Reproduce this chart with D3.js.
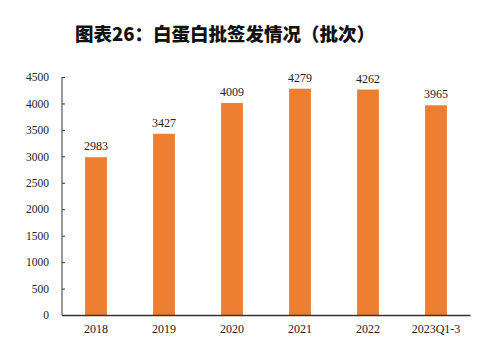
<!DOCTYPE html>
<html>
<head>
<meta charset="utf-8">
<script src="https://cdn.jsdelivr.net/npm/d3@7"></script>
<style>
  body { margin: 0; background: #fff; }
  svg text { font-family: "Liberation Serif", "Times New Roman", serif; fill: #222; }
  .title { font-family: "Noto Sans CJK SC", sans-serif !important; font-weight: 900; fill: #111 !important; }
</style>
</head>
<body>
<div id="chart"></div>
<script>
// 数据
const categories = ["2018", "2019", "2020", "2021", "2022", "2023Q1-3"];
const values = [2983, 3427, 4009, 4279, 4262, 3965];
const yTicks = [0, 500, 1000, 1500, 2000, 2500, 3000, 3500, 4000, 4500];

const width = 500;
const height = 353;
const margin = { top: 77, right: 30, bottom: 38, left: 62 };

const svg = d3.select("#chart")
    .append("svg")
    .attr("width", width)
    .attr("height", height);

// 标题
svg.append("text")
    .attr("class", "title")
    .attr("x", 225)
    .attr("y", 41)
    .attr("text-anchor", "middle")
    .style("font-size", "18.5px")
    .text("图表26：白蛋白批签发情况（批次）");

// 比例尺
const x = d3.scaleBand()
    .domain(categories)
    .range([margin.left, width - margin.right])
    .paddingInner(0.68)
    .paddingOuter(0.34);

const y = d3.scaleLinear()
    .domain([0, 4500])
    .range([height - margin.bottom, margin.top]);

// 柱子
svg.selectAll(".bar")
    .data(values)
    .enter()
    .append("rect")
    .attr("class", "bar")
    .attr("x", (_, i) => x(categories[i]))
    .attr("y", d => y(d))
    .attr("width", x.bandwidth())
    .attr("height", d => y(0) - y(d))
    .attr("fill", "#ED7D31");

// 数值标签
svg.selectAll(".val")
    .data(values)
    .enter()
    .append("text")
    .attr("x", (_, i) => x(categories[i]) + x.bandwidth() / 2)
    .attr("y", d => y(d) - 7)
    .attr("text-anchor", "middle")
    .style("font-size", "12px")
    .text(d => d);

// Y 轴
const yAxis = svg.append("g")
    .attr("transform", `translate(${margin.left},0)`)
    .call(d3.axisRight(y).tickValues(yTicks).tickSize(3).tickFormat(d => d));
yAxis.select(".domain").attr("stroke", "#333").attr("d", `M0,${y(4500)}V${y(0)}`);
yAxis.selectAll(".tick line").attr("stroke", "#333");
yAxis.selectAll(".tick text")
    .attr("x", -13)
    .attr("text-anchor", "end")
    .style("font-size", "11.5px");

// X 轴
const xAxis = svg.append("g")
    .attr("transform", `translate(0,${y(0)})`)
    .call(d3.axisBottom(x).tickSize(0));
xAxis.select(".domain").attr("stroke", "#333").attr("stroke-width", 1.5);
xAxis.selectAll(".tick text")
    .attr("dy", "1em")
    .attr("y", 6)
    .style("font-size", "12px");
</script>
</body>
</html>
